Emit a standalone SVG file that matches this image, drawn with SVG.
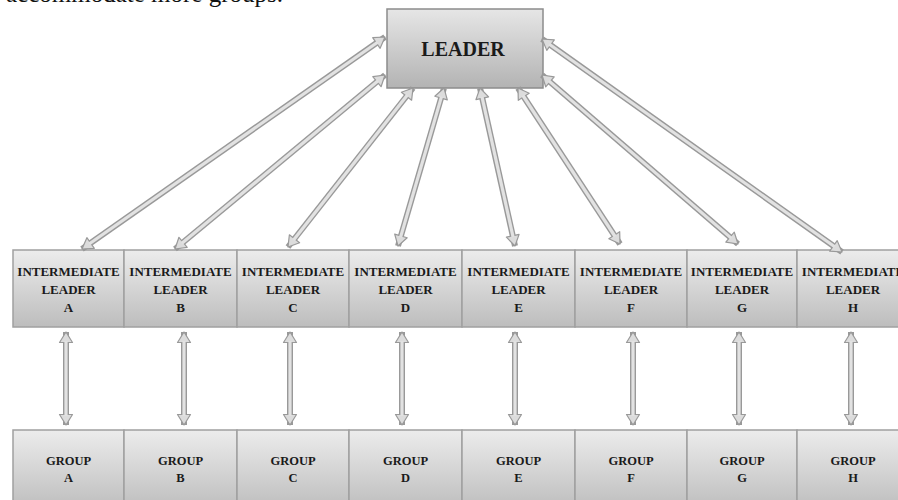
<svg xmlns="http://www.w3.org/2000/svg" width="898" height="500" viewBox="0 0 898 500">
<defs>
<linearGradient id="gbox" x1="0" y1="0" x2="0" y2="1">
<stop offset="0" stop-color="#ececec"/>
<stop offset="1" stop-color="#bdbdbd"/>
</linearGradient>
<linearGradient id="gleader" x1="0" y1="0" x2="0" y2="1">
<stop offset="0" stop-color="#e6e6e6"/>
<stop offset="1" stop-color="#b3b3b3"/>
</linearGradient>
<marker id="ah" viewBox="-12 -8 13 16" markerWidth="13" markerHeight="16" refX="0" refY="0" orient="auto-start-reverse" markerUnits="userSpaceOnUse">
<path d="M-10.5,-6.5 L0,0 L-10.5,6.5 Z" fill="#dcdcdc" stroke="#999" stroke-width="1.2" stroke-linejoin="round"/>
</marker>
</defs>
<style>
.box{fill:url(#gbox);stroke:#a0a0a0;stroke-width:1.5}
.lbox{fill:url(#gleader);stroke:#8c8c8c;stroke-width:1.5}
.t{font-family:"Liberation Serif","Times New Roman",serif;font-weight:bold;fill:#1a1a1a;text-anchor:middle}
.il{font-size:13px}
.gl{font-size:12.5px}
.outer{stroke:#999;stroke-width:6;fill:none;marker-start:url(#ah);marker-end:url(#ah)}
.inner{stroke:#e2e2e2;stroke-width:3.2;fill:none}
</style>
<rect width="898" height="500" fill="#ffffff"/>
<text x="6" y="1.5" font-family="Liberation Serif,'Times New Roman',serif" font-size="25" fill="#111">accommodate more groups.</text>

<g id="leader">
<rect class="lbox" x="387" y="9" width="156" height="79"/>
<text class="t" x="463" y="56" font-size="20">LEADER</text>
</g>

<g id="intermediate-a"><rect class="box" x="13" y="250" width="111" height="77"/><text class="t il" x="68.5" y="276">INTERMEDIATE</text><text class="t il" x="68.5" y="294">LEADER</text><text class="t il" x="68.5" y="312">A</text></g>
<g id="intermediate-b"><rect class="box" x="124" y="250" width="113" height="77"/><text class="t il" x="180.5" y="276">INTERMEDIATE</text><text class="t il" x="180.5" y="294">LEADER</text><text class="t il" x="180.5" y="312">B</text></g>
<g id="intermediate-c"><rect class="box" x="237" y="250" width="112" height="77"/><text class="t il" x="293" y="276">INTERMEDIATE</text><text class="t il" x="293" y="294">LEADER</text><text class="t il" x="293" y="312">C</text></g>
<g id="intermediate-d"><rect class="box" x="349" y="250" width="113" height="77"/><text class="t il" x="405.5" y="276">INTERMEDIATE</text><text class="t il" x="405.5" y="294">LEADER</text><text class="t il" x="405.5" y="312">D</text></g>
<g id="intermediate-e"><rect class="box" x="462" y="250" width="113" height="77"/><text class="t il" x="518.5" y="276">INTERMEDIATE</text><text class="t il" x="518.5" y="294">LEADER</text><text class="t il" x="518.5" y="312">E</text></g>
<g id="intermediate-f"><rect class="box" x="575" y="250" width="112" height="77"/><text class="t il" x="631" y="276">INTERMEDIATE</text><text class="t il" x="631" y="294">LEADER</text><text class="t il" x="631" y="312">F</text></g>
<g id="intermediate-g"><rect class="box" x="687" y="250" width="110" height="77"/><text class="t il" x="742" y="276">INTERMEDIATE</text><text class="t il" x="742" y="294">LEADER</text><text class="t il" x="742" y="312">G</text></g>
<g id="intermediate-h"><rect class="box" x="797" y="250" width="112" height="77"/><text class="t il" x="853" y="276">INTERMEDIATE</text><text class="t il" x="853" y="294">LEADER</text><text class="t il" x="853" y="312">H</text></g>

<g id="group-a"><rect class="box" x="13" y="430" width="111" height="80"/><text class="t gl" x="68.5" y="465">GROUP</text><text class="t gl" x="68.5" y="482">A</text></g>
<g id="group-b"><rect class="box" x="124" y="430" width="113" height="80"/><text class="t gl" x="180.5" y="465">GROUP</text><text class="t gl" x="180.5" y="482">B</text></g>
<g id="group-c"><rect class="box" x="237" y="430" width="112" height="80"/><text class="t gl" x="293" y="465">GROUP</text><text class="t gl" x="293" y="482">C</text></g>
<g id="group-d"><rect class="box" x="349" y="430" width="113" height="80"/><text class="t gl" x="405.5" y="465">GROUP</text><text class="t gl" x="405.5" y="482">D</text></g>
<g id="group-e"><rect class="box" x="462" y="430" width="113" height="80"/><text class="t gl" x="518.5" y="465">GROUP</text><text class="t gl" x="518.5" y="482">E</text></g>
<g id="group-f"><rect class="box" x="575" y="430" width="112" height="80"/><text class="t gl" x="631" y="465">GROUP</text><text class="t gl" x="631" y="482">F</text></g>
<g id="group-g"><rect class="box" x="687" y="430" width="110" height="80"/><text class="t gl" x="742" y="465">GROUP</text><text class="t gl" x="742" y="482">G</text></g>
<g id="group-h"><rect class="box" x="797" y="430" width="112" height="80"/><text class="t gl" x="853" y="465">GROUP</text><text class="t gl" x="853" y="482">H</text></g>

<g id="connectors">
<line class="outer" x1="385" y1="37" x2="82" y2="249"/><line class="inner" x1="377.6" y1="42.2" x2="89.4" y2="243.8"/>
<line class="outer" x1="385" y1="75" x2="175" y2="249"/><line class="inner" x1="378.1" y1="80.7" x2="181.9" y2="243.3"/>
<line class="outer" x1="413" y1="88" x2="288" y2="247"/><line class="inner" x1="407.4" y1="95.1" x2="293.6" y2="239.9"/>
<line class="outer" x1="444" y1="88" x2="398" y2="246"/><line class="inner" x1="441.5" y1="96.6" x2="400.5" y2="237.4"/>
<line class="outer" x1="480" y1="88" x2="515" y2="246"/><line class="inner" x1="482" y1="96.8" x2="513.1" y2="237.2"/>
<line class="outer" x1="518" y1="88" x2="620" y2="244"/><line class="inner" x1="522.9" y1="95.5" x2="615.1" y2="236.5"/>
<line class="outer" x1="542" y1="75" x2="738" y2="244"/><line class="inner" x1="548.8" y1="80.9" x2="731.2" y2="238.1"/>
<line class="outer" x1="542" y1="39" x2="842" y2="252"/><line class="inner" x1="549.3" y1="44.2" x2="834.7" y2="246.8"/>

<line class="outer" x1="66" y1="332" x2="66" y2="425"/><line class="inner" x1="66" y1="341" x2="66" y2="416"/>
<line class="outer" x1="184" y1="332" x2="184" y2="425"/><line class="inner" x1="184" y1="341" x2="184" y2="416"/>
<line class="outer" x1="290" y1="332" x2="290" y2="425"/><line class="inner" x1="290" y1="341" x2="290" y2="416"/>
<line class="outer" x1="402" y1="332" x2="402" y2="425"/><line class="inner" x1="402" y1="341" x2="402" y2="416"/>
<line class="outer" x1="515" y1="332" x2="515" y2="425"/><line class="inner" x1="515" y1="341" x2="515" y2="416"/>
<line class="outer" x1="633" y1="332" x2="633" y2="425"/><line class="inner" x1="633" y1="341" x2="633" y2="416"/>
<line class="outer" x1="739" y1="332" x2="739" y2="425"/><line class="inner" x1="739" y1="341" x2="739" y2="416"/>
<line class="outer" x1="851" y1="332" x2="851" y2="425"/><line class="inner" x1="851" y1="341" x2="851" y2="416"/>
</g>
</svg>
